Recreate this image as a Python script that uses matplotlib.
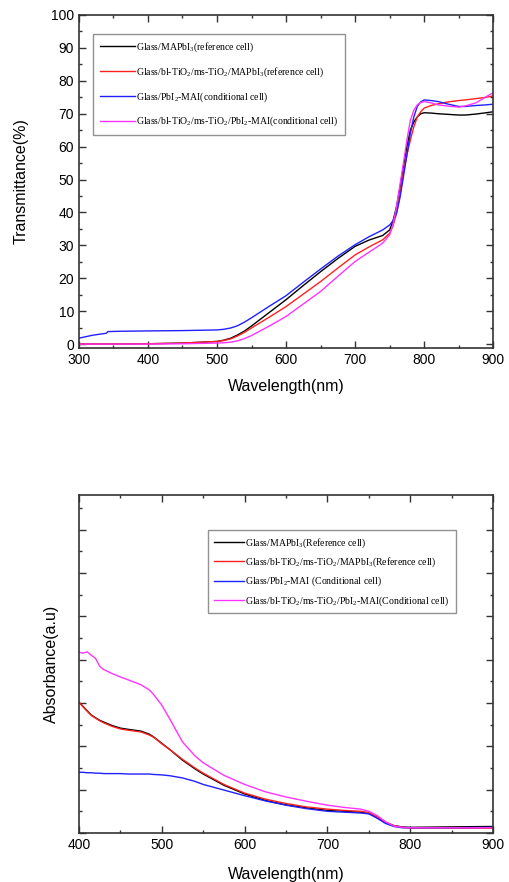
import matplotlib
matplotlib.use("Agg")
import matplotlib.pyplot as plt
from matplotlib.ticker import MultipleLocator

# ---- Top panel: transmittance ----
wl_t = [300, 320, 340, 341, 342, 360, 400, 450, 500, 510, 520, 530, 540, 550, 575, 600, 625, 650, 675, 700,
        720, 740, 750, 755, 760, 765, 770, 775, 780, 785, 790, 795, 800, 810, 820, 835, 850, 860, 875, 890, 900]
T_black = [0.0, 0.0, 0.0, 0.0, 0.0, 0.0, 0.1, 0.3, 0.8, 1.2, 1.8, 2.8, 4.0, 5.5, 9.5, 13.5, 17.8, 22.0, 26.0, 29.7,
           31.6, 33.0, 34.7, 37.5, 41.8, 47.5, 54.0, 60.0, 65.0, 67.5, 69.0, 70.0, 70.3, 70.2, 70.0, 69.8, 69.6, 69.6, 69.9, 70.3, 70.6]
T_red = [0.0, 0.0, 0.0, 0.0, 0.0, 0.0, 0.1, 0.3, 0.8, 1.1, 1.6, 2.5, 3.6, 4.9, 8.1, 11.4, 15.2, 19.0, 23.1, 27.1,
         29.5, 31.7, 33.7, 36.0, 39.8, 45.5, 52.0, 57.5, 62.0, 66.0, 69.0, 70.6, 71.7, 72.5, 73.0, 73.6, 74.0, 74.2, 74.6, 75.0, 75.4]
T_blue = [1.8, 2.7, 3.3, 3.6, 3.8, 3.9, 4.0, 4.1, 4.3, 4.5, 4.9, 5.6, 6.7, 8.0, 11.4, 14.7, 18.8, 22.8, 26.7, 30.2,
          32.6, 34.7, 36.2, 37.5, 39.8, 44.5, 50.9, 57.5, 64.0, 69.0, 72.2, 73.6, 74.2, 74.0, 73.7, 72.9, 72.2, 72.2, 72.5, 72.7, 72.9]
T_mag = [0.0, 0.0, 0.0, 0.0, 0.0, 0.0, 0.0, 0.1, 0.3, 0.4, 0.6, 1.0, 1.7, 2.6, 5.4, 8.4, 12.2, 16.0, 20.6, 25.1,
         27.9, 30.7, 33.2, 36.5, 41.8, 48.5, 55.0, 62.0, 68.0, 71.0, 72.7, 73.4, 73.7, 73.3, 72.7, 72.3, 72.0, 72.4, 73.3, 75.2, 76.4]

# ---- Bottom panel: absorbance ----
wl_a = [400, 405, 410, 415, 420, 425, 430, 440, 450, 460, 475, 485, 490, 500, 510, 525, 540, 550, 575, 600,
        625, 650, 675, 700, 720, 740, 750, 760, 770, 780, 790, 800, 850, 900]
A_black = [3.02, 2.92, 2.82, 2.72, 2.66, 2.60, 2.56, 2.48, 2.42, 2.39, 2.35, 2.28, 2.22, 2.07, 1.92, 1.68, 1.48, 1.36, 1.10, 0.90,
           0.75, 0.65, 0.58, 0.52, 0.50, 0.48, 0.45, 0.35, 0.24, 0.17, 0.14, 0.13, 0.14, 0.15]
A_red = [3.02, 2.91, 2.81, 2.71, 2.65, 2.59, 2.54, 2.46, 2.40, 2.37, 2.33, 2.26, 2.21, 2.06, 1.92, 1.70, 1.50, 1.38, 1.12, 0.92,
         0.78, 0.68, 0.60, 0.55, 0.52, 0.50, 0.47, 0.37, 0.25, 0.17, 0.13, 0.11, 0.11, 0.11]
A_blue = [1.40, 1.40, 1.39, 1.39, 1.38, 1.38, 1.37, 1.37, 1.37, 1.36, 1.36, 1.36, 1.35, 1.34, 1.32, 1.27, 1.19, 1.12, 0.99, 0.86,
          0.74, 0.64, 0.56, 0.50, 0.48, 0.46, 0.44, 0.34, 0.22, 0.15, 0.12, 0.12, 0.12, 0.13]
A_mag = [4.17, 4.15, 4.18, 4.10, 4.03, 3.85, 3.77, 3.68, 3.60, 3.53, 3.42, 3.30, 3.20, 2.95, 2.62, 2.10, 1.78, 1.62, 1.33, 1.12,
         0.95, 0.83, 0.73, 0.64, 0.59, 0.55, 0.50, 0.40, 0.26, 0.16, 0.13, 0.12, 0.12, 0.12]

labels_top = [r"Glass/MAPbI$_3$(reference cell)",
              r"Glass/bl-TiO$_2$/ms-TiO$_2$/MAPbI$_3$(reference cell)",
              r"Glass/PbI$_2$-MAI(conditional cell)",
              r"Glass/bl-TiO$_2$/ms-TiO$_2$/PbI$_2$-MAI(conditional cell)"]
labels_bot = [r"Glass/MAPbI$_3$(Reference cell)",
              r"Glass/bl-TiO$_2$/ms-TiO$_2$/MAPbI$_3$(Reference cell)",
              r"Glass/PbI$_2$-MAI (Conditional cell)",
              r"Glass/bl-TiO$_2$/ms-TiO$_2$/PbI$_2$-MAI(Conditional cell)"]
colors = ["#000000", "#ff2020", "#2020ff", "#ff33ff"]

plt.rcParams['font.family'] = ['Liberation Sans', 'DejaVu Sans']
plt.rcParams['mathtext.fontset'] = 'custom'
plt.rcParams['mathtext.rm'] = 'Liberation Serif'
plt.rcParams['mathtext.it'] = 'Liberation Serif:italic'

fig = plt.figure(figsize=(5.09, 8.82), dpi=100)
ax1 = fig.add_axes([0.155, 0.6054, 0.814, 0.3776])
ax2 = fig.add_axes([0.155, 0.0556, 0.814, 0.3832])


def style(ax):
    ax.tick_params(which='both', direction='in', top=True, right=True, width=1.0, color='#333333')
    ax.tick_params(which='major', length=5, labelsize=10)
    ax.tick_params(which='minor', length=2.5)
    for s in ax.spines.values():
        s.set_linewidth(1.2)
        s.set_color('#333333')


for y, c, l in zip([T_black, T_red, T_blue, T_mag], colors, labels_top):
    ax1.plot(wl_t, y, color=c, lw=1.0, label=l)
ax1.set_xlim(300, 900)
ax1.set_ylim(-1.2, 100)
ax1.xaxis.set_major_locator(MultipleLocator(100))
ax1.xaxis.set_minor_locator(MultipleLocator(50))
ax1.yaxis.set_major_locator(MultipleLocator(10))
ax1.yaxis.set_minor_locator(MultipleLocator(5))
ax1.set_xlabel("Wavelength(nm)", fontsize=11.5, labelpad=9)
ax1.set_ylabel("Transmittance(%)", fontsize=11.5, labelpad=16)
style(ax1)
leg1 = ax1.legend(loc='upper left', bbox_to_anchor=(0.022, 0.958), prop={'family': 'Liberation Serif', 'size': 7},
                  frameon=True, fancybox=False, edgecolor='#777777', handlelength=3.6, labelspacing=1.15,
                  borderpad=0.7, handletextpad=0.15)
leg1.get_frame().set_linewidth(1.0)

for y, c, l in zip([A_black, A_red, A_blue, A_mag], colors, labels_bot):
    ax2.plot(wl_a, y, color=c, lw=1.0, label=l)
ax2.set_xlim(400, 900)
ax2.set_ylim(0, 7.8)
ax2.xaxis.set_major_locator(MultipleLocator(100))
ax2.xaxis.set_minor_locator(MultipleLocator(50))
ax2.yaxis.set_major_locator(MultipleLocator(1))
ax2.yaxis.set_minor_locator(MultipleLocator(0.5))
ax2.tick_params(axis='y', which='both', labelleft=False)
ax2.set_xlabel("Wavelength(nm)", fontsize=11.5, labelpad=11)
ax2.set_ylabel("Absorbance(a.u)", fontsize=11.5, labelpad=14)
style(ax2)
leg2 = ax2.legend(loc='upper left', bbox_to_anchor=(0.30, 0.91), prop={'family': 'Liberation Serif', 'size': 7},
                  frameon=True, fancybox=False, edgecolor='#777777', handlelength=3.1, labelspacing=0.6,
                  borderpad=0.6, handletextpad=0.15)
leg2.get_frame().set_linewidth(1.0)

fig.savefig("out.png", dpi=100)
